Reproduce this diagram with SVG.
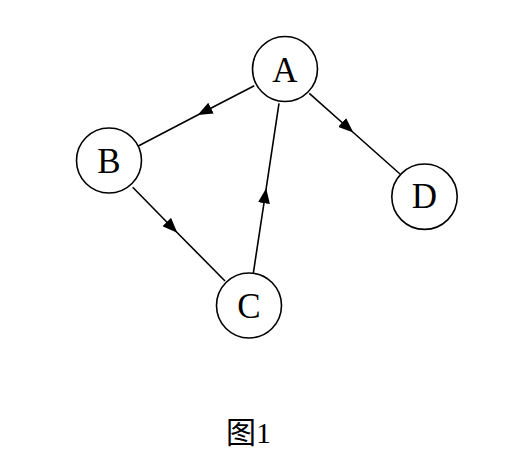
<svg xmlns="http://www.w3.org/2000/svg" width="529" height="466" viewBox="0 0 529 466">
<style>
.node circle{fill:#fff;stroke:#000;stroke-width:1.6}
.node text{font-family:"Liberation Serif","Times New Roman",serif;font-size:35px;text-anchor:middle;fill:#000}
.edge{fill:none;stroke:#000;stroke-width:1.6;marker-mid:url(#arr)}
.cap{font-family:"Liberation Serif","Noto Sans CJK SC",serif;font-size:30px;fill:#000}
</style>
<defs>
<marker id="arr" markerUnits="userSpaceOnUse" markerWidth="16" markerHeight="12" refX="15" refY="6" orient="auto" viewBox="0 0 16 12">
<path d="M0,0 L15,6 L0,12 z" fill="#000"/>
</marker>
</defs>
<rect width="529" height="466" fill="#fff"/>
<g id="connectors">
<path class="edge" d="M254.3,85.7 L197.7,115 L138.3,146"/>
<path class="edge" d="M309.3,93.3 L353.3,132.5 L400,174"/>
<path class="edge" d="M132.7,187.3 L177.3,232.7 L225,281"/>
<path class="edge" d="M253.3,273.3 L266.2,188.3 L279,103.3"/>
</g>
<g id="A" class="node"><circle cx="285" cy="69" r="32.5"/><text x="285" y="82">A</text></g>
<g id="B" class="node"><circle cx="109" cy="160.5" r="32.5"/><text x="109" y="173">B</text></g>
<g id="C" class="node"><circle cx="249" cy="305.5" r="32.5"/><text x="249" y="318">C</text></g>
<g id="D" class="node"><circle cx="424.5" cy="196.7" r="32.7"/><text x="424.5" y="208">D</text></g>
<text class="cap" x="226" y="443">图1</text>
</svg>
